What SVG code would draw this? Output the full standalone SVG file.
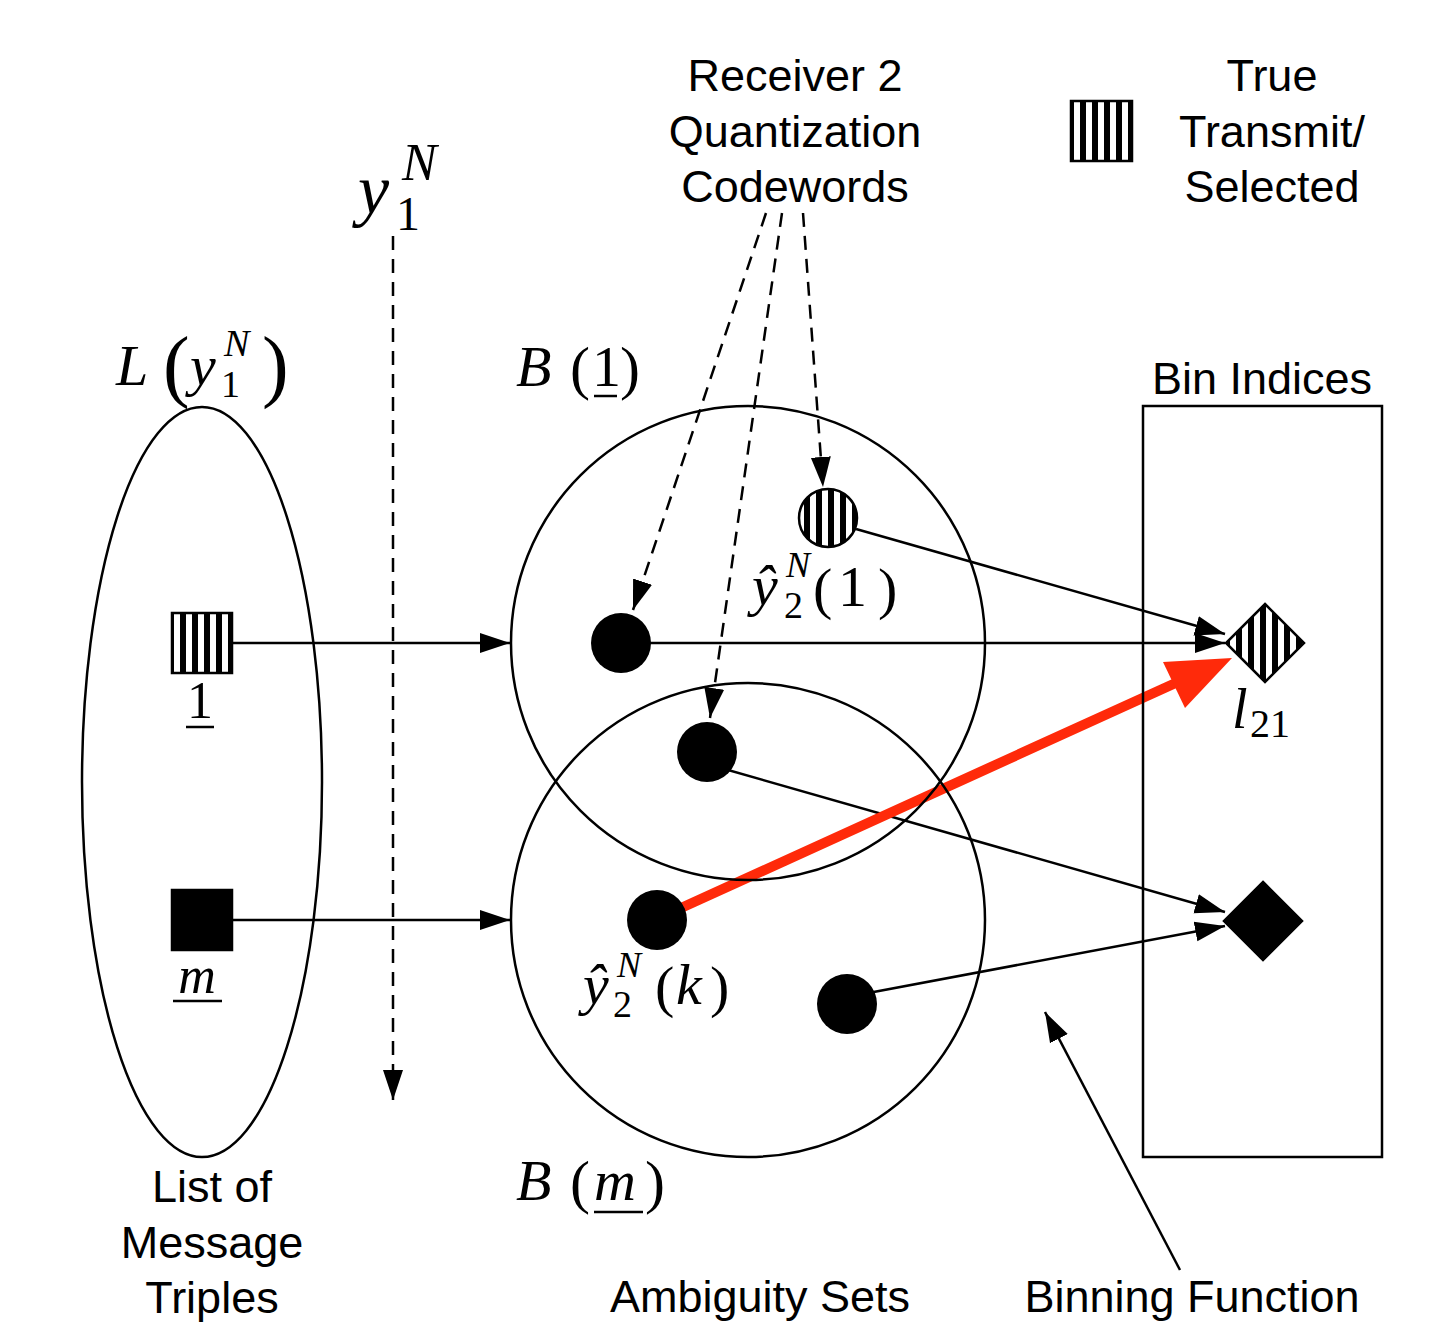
<svg xmlns="http://www.w3.org/2000/svg" width="1438" height="1327" viewBox="0 0 1438 1327">
<style>
.lbl{font-family:"Liberation Sans",Arial,sans-serif;font-size:45px;fill:#000;text-anchor:middle}
.r{font-family:"Liberation Serif","Times New Roman",serif;font-style:normal;fill:#000}
.i{font-style:italic}
.ln{stroke:#000;stroke-width:2.5;fill:none}
.dash{stroke:#000;stroke-width:2.5;fill:none;stroke-dasharray:14 9}
.shape{stroke:#000;stroke-width:2.5}
</style>
<defs>
<pattern id="stripes" patternUnits="userSpaceOnUse" width="12" height="12">
<rect x="0" y="0" width="12" height="12" fill="#fff"/>
<rect x="0" y="0" width="6" height="12" fill="#000"/>
</pattern>
<marker id="ah" markerUnits="userSpaceOnUse" markerWidth="32" markerHeight="24" refX="30" refY="12" orient="auto">
<path d="M0,2 L30,12 L0,22 Z" fill="#000"/>
</marker>
</defs>
<rect width="1438" height="1327" fill="#fff"/>

<g id="connectors">
<line class="ln" x1="232" y1="643" x2="510" y2="643" marker-end="url(#ah)"/>
<line class="ln" x1="232" y1="920" x2="510" y2="920" marker-end="url(#ah)"/>
<line class="dash" x1="393" y1="236" x2="393" y2="1100" marker-end="url(#ah)"/>
<line class="dash" x1="766" y1="213" x2="633" y2="610" marker-end="url(#ah)"/>
<line class="dash" x1="782" y1="213" x2="710" y2="718" marker-end="url(#ah)"/>
<line class="dash" x1="803" y1="213" x2="823" y2="487" marker-end="url(#ah)"/>
<line class="ln" x1="621" y1="643" x2="1225" y2="643" marker-end="url(#ah)"/>
<line class="ln" x1="856" y1="529" x2="1225" y2="634" marker-end="url(#ah)"/>
<line class="ln" x1="707" y1="764" x2="1225" y2="912" marker-end="url(#ah)"/>
<line class="ln" x1="847" y1="997" x2="1225" y2="926" marker-end="url(#ah)"/>
<line class="ln" x1="1180" y1="1270" x2="1045" y2="1012" marker-end="url(#ah)"/>
<line x1="681" y1="908" x2="1180" y2="681" stroke="#ff2a0a" stroke-width="10" stroke-linecap="round"/>
<polygon points="1232,658 1163,662 1185,708" fill="#ff2a0a"/>
</g>

<g id="list-ellipse"><ellipse cx="202" cy="782" rx="120" ry="375" class="shape" fill="none"/></g>
<g id="set-B1"><circle cx="748" cy="643" r="237" class="shape" fill="none"/></g>
<g id="set-Bm"><circle cx="748" cy="920" r="237" class="shape" fill="none"/></g>
<g id="bin-indices"><rect x="1143" y="406" width="239" height="751" class="shape" fill="none"/></g>

<g id="msg-1"><rect x="172" y="613" width="60" height="60" fill="url(#stripes)" class="shape"/></g>
<g id="msg-m"><rect x="172" y="890" width="60" height="60" fill="#000" class="shape"/></g>
<g id="legend-square"><rect x="1071" y="101" width="61" height="60" fill="url(#stripes)" class="shape"/></g>

<g id="cw-selected"><circle cx="828" cy="518" r="29" fill="url(#stripes)" class="shape"/></g>
<g id="cw-a"><circle cx="621" cy="643" r="30" fill="#000"/></g>
<g id="cw-b"><circle cx="707" cy="752" r="30" fill="#000"/></g>
<g id="cw-k"><circle cx="657" cy="920" r="30" fill="#000"/></g>
<g id="cw-c"><circle cx="847" cy="1004" r="30" fill="#000"/></g>

<g id="bin-l21"><polygon points="1265,604 1304,643 1265,682 1226,643" fill="url(#stripes)" class="shape"/></g>
<g id="bin-2"><polygon points="1263,882 1302,921 1263,960 1224,921" fill="#000" class="shape"/></g>

<g id="texts">
<text class="lbl" x="795" y="91">Receiver 2</text>
<text class="lbl" x="795" y="147">Quantization</text>
<text class="lbl" x="795" y="202">Codewords</text>
<text class="lbl" x="1272" y="91">True</text>
<text class="lbl" x="1272" y="147">Transmit/</text>
<text class="lbl" x="1272" y="202">Selected</text>
<text class="lbl" x="1262" y="394">Bin Indices</text>
<text class="lbl" x="212" y="1202">List of</text>
<text class="lbl" x="212" y="1258">Message</text>
<text class="lbl" x="212" y="1313">Triples</text>
<text class="lbl" x="760" y="1312">Ambiguity Sets</text>
<text class="lbl" x="1192" y="1312">Binning Function</text>

<!-- y_1^N top -->
<text class="r" font-size="70"><tspan class="i" x="358" y="213">y</tspan><tspan x="396" y="230" font-size="48">1</tspan><tspan class="i" x="402" y="180" font-size="52">N</tspan></text>

<!-- L(y_1^N) -->
<text class="r" font-size="58"><tspan class="i" x="116" y="385">L</tspan><tspan x="163" y="392" font-size="80">(</tspan><tspan class="i" x="190" y="385">y</tspan><tspan x="221" y="397" font-size="38">1</tspan><tspan class="i" x="224" y="356" font-size="38">N</tspan><tspan x="262" y="392" font-size="80">)</tspan></text>

<!-- B(1) -->
<text class="r" font-size="58"><tspan class="i" x="516" y="386">B</tspan><tspan x="570" y="388" font-size="60">(</tspan><tspan x="592" y="386">1</tspan><tspan x="620" y="388" font-size="60">)</tspan></text>
<line x1="594" y1="396" x2="617" y2="396" stroke="#000" stroke-width="2.5"/>

<!-- B(m) -->
<text class="r" font-size="58"><tspan class="i" x="516" y="1200">B</tspan><tspan x="570" y="1202" font-size="60">(</tspan><tspan class="i" x="594" y="1200">m</tspan><tspan x="645" y="1202" font-size="60">)</tspan></text>
<line x1="594" y1="1212" x2="643" y2="1212" stroke="#000" stroke-width="2.5"/>

<!-- 1 under square -->
<text class="r" x="200" y="718" font-size="52" text-anchor="middle">1</text>
<line x1="186" y1="727" x2="214" y2="727" stroke="#000" stroke-width="2.5"/>
<!-- m under square -->
<text class="r i" x="197" y="993" font-size="52" text-anchor="middle">m</text>
<line x1="173" y1="1001" x2="222" y2="1001" stroke="#000" stroke-width="2.5"/>

<!-- yhat_2^N(1) -->
<text class="r" font-size="58"><tspan class="i" x="752" y="605">ŷ</tspan><tspan x="784" y="618" font-size="38">2</tspan><tspan class="i" x="786" y="577" font-size="36">N</tspan><tspan x="813" y="608">(</tspan><tspan x="838" y="606">1</tspan><tspan x="878" y="608">)</tspan></text>

<!-- yhat_2^N(k) -->
<text class="r" font-size="58"><tspan class="i" x="583" y="1004">ŷ</tspan><tspan x="613" y="1017" font-size="38">2</tspan><tspan class="i" x="617" y="977" font-size="36">N</tspan><tspan x="655" y="1006">(</tspan><tspan class="i" x="676" y="1004">k</tspan><tspan x="710" y="1006">)</tspan></text>

<!-- l_21 -->
<text class="r" font-size="56"><tspan class="i" x="1232" y="728">l</tspan><tspan x="1250" y="737" font-size="40">21</tspan></text>
</g>
</svg>
